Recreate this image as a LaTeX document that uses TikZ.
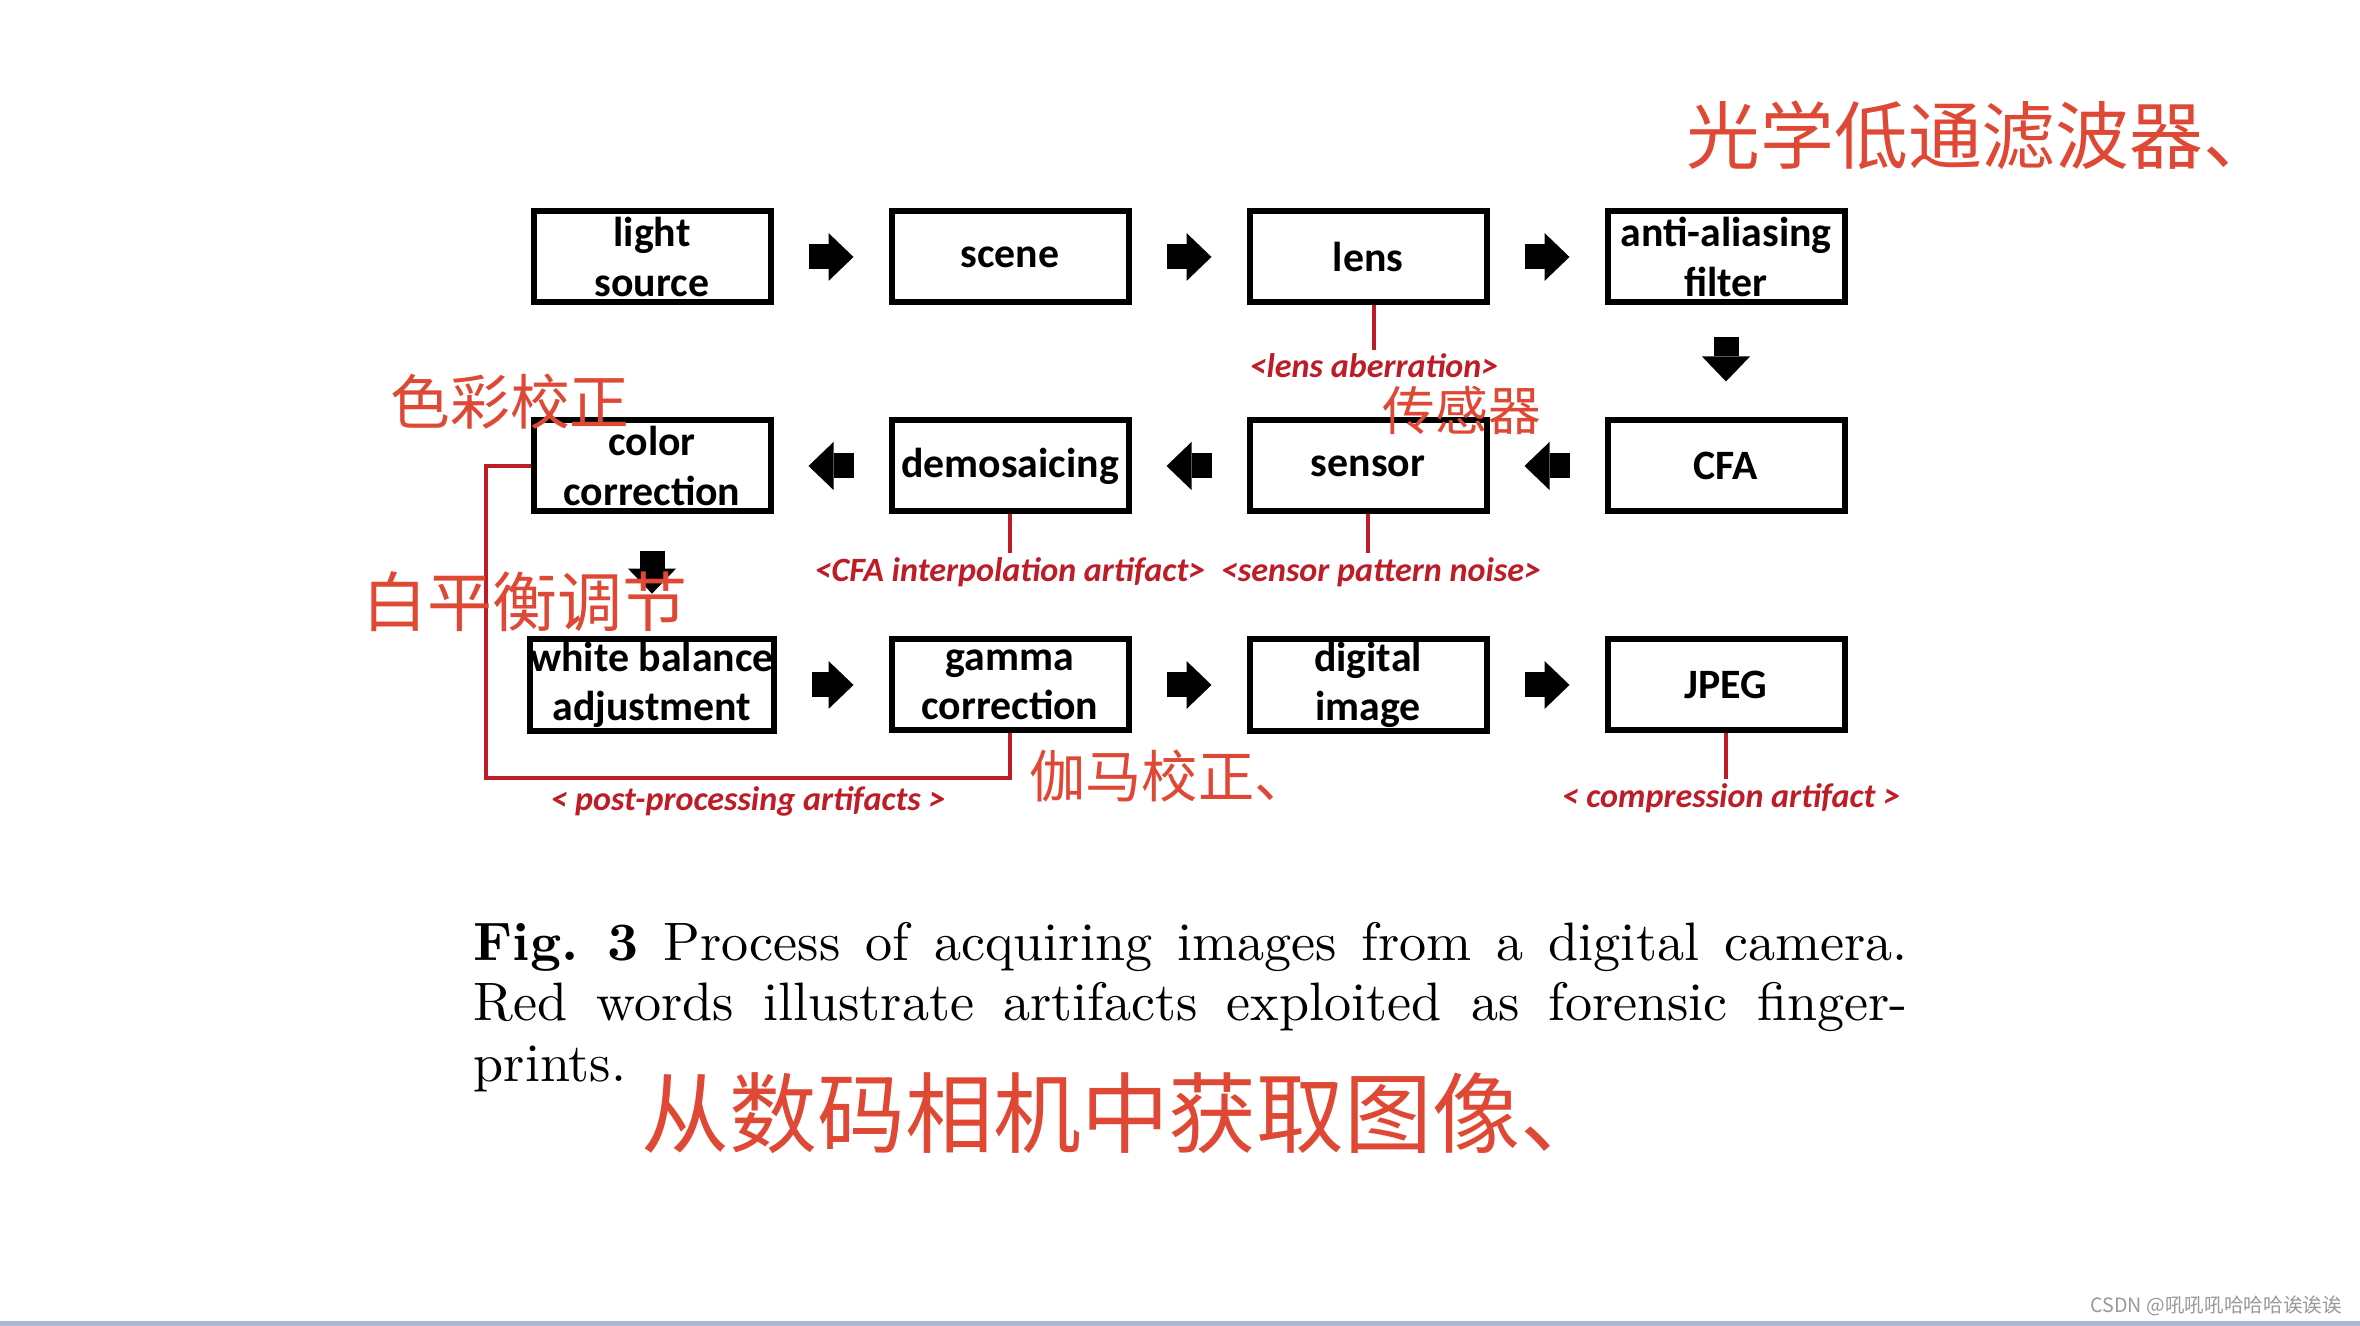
\documentclass[tikz,border=0pt]{standalone}
\usepackage{fontspec}
\newfontfamily\boxfont{Carlito}
\newfontfamily\capfont{lmroman10-regular.otf}[BoldFont=lmroman10-bold.otf]
\newfontfamily\cjk{Noto Sans CJK SC}
\usetikzlibrary{arrows.meta}
\definecolor{artred}{RGB}{190,28,38}
\definecolor{inkred}{RGB}{222,72,52}
\definecolor{barblue}{RGB}{168,184,212}
\begin{document}
\begin{tikzpicture}[x=1cm,y=1cm,>=stealth]
\tikzstyle{stage}=[draw=black, line width=0.06cm, minimum width=2.37cm, minimum height=0.91cm, inner xsep=0pt, inner ysep=1pt, align=center, font=\boxfont\bfseries\fontsize{11.9}{14}\selectfont]
\tikzstyle{flow}=[line width=0.25cm, -{Triangle[length=0.25cm,width=0.48cm,line width=0pt]}, shorten <=0.35cm, shorten >=0.35cm]
\tikzstyle{artifact}=[text=artred, inner sep=1pt, font=\boxfont\bfseries\itshape\fontsize{9.7}{11}\selectfont]
\tikzstyle{tie}=[draw=artred, line width=0.04cm]
\tikzstyle{note}=[text=inkred, inner sep=0pt]

\fill[white] (0,0) rectangle (23.6,13.26);
\useasboundingbox (0,0) rectangle (23.6,13.26);

% Row 1
\node[stage] (ls) at (6.52,10.69) {light\\source};
\node[stage] (scn) at (10.10,10.69) {scene};
\node[stage] (lens) at (13.68,10.69) {lens};
\node[stage] (aaf) at (17.26,10.69) {anti-aliasing\\filter};
\draw[flow] (ls) -- (scn);
\draw[flow] (scn) -- (lens);
\draw[flow] (lens) -- (aaf);

% Row 2
\node[stage] (cfa) at (17.26,8.60) {CFA};
\node[stage] (sen) at (13.68,8.60) {sensor};
\node[stage] (dem) at (10.10,8.60) {demosaicing};
\node[stage] (cc) at (6.52,8.60) {color\\correction};
\draw[flow, shorten <=0.32cm, shorten >=0.36cm] (aaf) -- (cfa);
\draw[flow] (cfa) -- (sen);
\draw[flow] (sen) -- (dem);
\draw[flow] (dem) -- (cc);

% Row 3
\node[stage] (wb) at (6.52,6.41) {white balance\\adjustment};
\node[stage] (gam) at (10.10,6.41) {gamma\\correction};
\node[stage] (dig) at (13.68,6.41) {digital\\image};
\node[stage] (jpeg) at (17.26,6.41) {JPEG};
\draw[flow, shorten <=0.37cm, shorten >=0.42cm] (cc) -- (wb);
\draw[flow] (wb) -- (gam);
\draw[flow] (gam) -- (dig);
\draw[flow] (dig) -- (jpeg);

% artifacts
\node[artifact] (abr) at (13.74,9.60) {<lens aberration>};
\node[artifact] (cfaart) at (10.10,7.54) {<CFA interpolation artifact>};
\node[artifact] (spn) at (13.81,7.54) {<sensor pattern noise>};
\node[artifact] (comp) at (17.31,5.28) {< compression artifact >};
\node[artifact] (post) at (7.48,5.25) {< post-processing artifacts >};
\draw[tie] (abr.north |- lens.south) -- (abr.north);
\draw[tie] (dem.south) -- (dem.south |- cfaart.north);
\draw[tie] (sen.south) -- (sen.south |- spn.north);
\draw[tie] (jpeg.south) -- (jpeg.south |- comp.north);
\coordinate (bend) at (4.86,5.48);
\draw[tie] (gam.south) |- (bend) |- (cc.west);

% caption
\node[anchor=north west, text width=14.34cm, align=justify, inner sep=0pt, font=\capfont\fontsize{15.4}{17.1}\selectfont] (cap) at (4.73,4.04)
  {\noindent\textbf{Fig.~3} Process of acquiring images from a digital camera.\linebreak
   Red words illustrate artifacts exploited as forensic finger-\linebreak prints.};

% handwritten notes
\node[note, anchor=west, font=\cjk\fontsize{21}{24}\selectfont] (n1) at (16.86,11.91) {光学低通滤波器、};
\node[note, font=\cjk\fontsize{17}{20}\selectfont] (n2) at (5.10,9.24) {色彩校正};
\node[note, font=\cjk\fontsize{15}{18}\selectfont] (n3) at (14.62,9.16) {传感器};
\node[note, font=\cjk\fontsize{18.5}{21}\selectfont] (n4) at (5.25,7.24) {白平衡调节};
\node[note, font=\cjk\fontsize{16}{19}\selectfont] (n5) at (11.70,5.50) {伽马校正、};
\node[note, font=\cjk\fontsize{25}{28}\selectfont] (n6) at (11.25,2.13) {从数码相机中获取图像、};

% footer
\node[text=gray!80, anchor=east, inner sep=0pt, font=\cjk\fontsize{5.6}{6}\selectfont] (mark) at (23.43,0.20) {CSDN @吼吼吼哈哈哈诶诶诶};
\fill[barblue] (0,0) rectangle (23.6,0.05);
\end{tikzpicture}
\end{document}
